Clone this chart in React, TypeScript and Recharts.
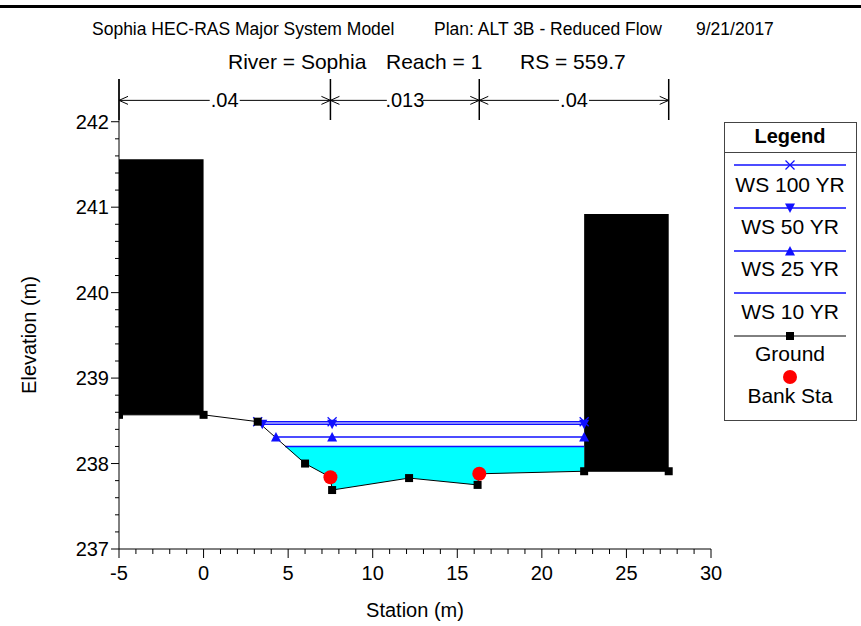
import React from 'react'
import { ComposedChart, Line, Area, XAxis, YAxis, ReferenceArea, ReferenceLine, Legend } from 'recharts'

// ground profile (station m, elevation m)
const groundStation = [-5, 0, 3.2, 6.0, 7.5, 7.6, 12.15, 16.2, 16.3, 22.5, 27.5]
const groundElev = [238.57, 238.57, 238.49, 238.0, 237.84, 237.69, 237.83, 237.75, 237.88, 237.91, 237.91]

// bank stations
const bankStation = [7.5, 16.3]
const bankElev = [237.84, 237.88]

// water surfaces
const ws100Station = [3.2, 7.6, 22.5]
const ws100Elev = [238.49, 238.49, 238.49]
const ws50Station = [3.47, 7.6, 22.5]
const ws50Elev = [238.46, 238.46, 238.46]
const ws25Station = [4.28, 7.6, 22.5]
const ws25Elev = [238.31, 238.31, 238.31]
const ws10Station = [4.82, 22.5]
const ws10Elev = [238.2, 238.2]

// obstructions
const blockStart = [-5, 22.5]
const blockEnd = [0, 27.5]
const blockBottom = [238.57, 237.91]
const blockTop = [241.56, 240.92]

// manning's n
const nStation = [-5, 7.5, 16.3, 27.5]
const nValue = ['.04', '.013', '.04']

// ticks: every 1 m on x (labels every 5), every 0.2 m on y (labels every 1)
const xTicks = Array.from({ length: 36 }, (_, i) => i - 5)
const yTicks = Array.from({ length: 26 }, (_, i) => +(237 + i * 0.2).toFixed(1))

const FONT = '"Liberation Sans", Arial, sans-serif'
const BLUE = '#1010ff'

const pts = (xs: number[], ys: number[]) => xs.map((x, i) => ({ x, y: ys[i] }))

const groundData = pts(groundStation, groundElev)
const bankData = pts(bankStation, bankElev)
const ws100Data = pts(ws100Station, ws100Elev)
const ws50Data = pts(ws50Station, ws50Elev)
const ws25Data = pts(ws25Station, ws25Elev)
const ws10Data = pts(ws10Station, ws10Elev)

// wetted area under WS 10 YR
const fillData = [
  { x: ws10Station[0], y: [ws10Elev[0], ws10Elev[0]] },
  ...groundData
    .filter((p) => p.x > ws10Station[0] && p.x <= ws10Station[1])
    .map((p) => ({ x: p.x, y: [p.y, ws10Elev[0]] })),
]

const XTick = (props: any) => {
  const { x, y, payload } = props
  const v = payload.value
  const major = v % 5 === 0
  return (
    <g>
      <line x1={x} y1={y} x2={x} y2={y + (major ? 9 : 5)} stroke="#000" />
      {major && (
        <text x={x} y={y + 31} textAnchor="middle" fontSize={20} fontFamily={FONT} fill="#000">
          {v}
        </text>
      )}
    </g>
  )
}

const YTick = (props: any) => {
  const { x, y, payload } = props
  const v = payload.value
  const major = Math.abs(v - Math.round(v)) < 1e-6
  return (
    <g>
      <line x1={x - (major ? 8 : 4)} y1={y} x2={x} y2={y} stroke="#000" />
      {major && (
        <text x={x - 10} y={y + 7} textAnchor="end" fontSize={20} fontFamily={FONT} fill="#000">
          {Math.round(v)}
        </text>
      )}
    </g>
  )
}

const Square = (props: any) => {
  const { cx, cy } = props
  if (cx == null || cy == null) return null
  return <rect x={cx - 4} y={cy - 4} width={8} height={8} fill="#000" />
}
const Cross = (props: any) => {
  const { cx, cy } = props
  if (cx == null || cy == null) return null
  return (
    <g stroke={BLUE} strokeWidth={1.3}>
      <line x1={cx - 4.5} y1={cy - 4.5} x2={cx + 4.5} y2={cy + 4.5} />
      <line x1={cx - 4.5} y1={cy + 4.5} x2={cx + 4.5} y2={cy - 4.5} />
    </g>
  )
}
const TriDown = (props: any) => {
  const { cx, cy } = props
  if (cx == null || cy == null) return null
  return <polygon points={`${cx - 5},${cy - 4.5} ${cx + 5},${cy - 4.5} ${cx},${cy + 5}`} fill={BLUE} />
}
const TriUp = (props: any) => {
  const { cx, cy } = props
  if (cx == null || cy == null) return null
  return <polygon points={`${cx - 5},${cy + 4.5} ${cx + 5},${cy + 4.5} ${cx},${cy - 5}`} fill={BLUE} />
}
const Bank = (props: any) => {
  const { cx, cy } = props
  if (cx == null || cy == null) return null
  return <circle cx={cx} cy={cy} r={7} fill="#ff0000" />
}

const arrowShape = (label: string) => (props: any) => {
  const { x1, y1, x2, y2 } = props
  const mx = (x1 + x2) / 2
  const gap = label.length * 6 + 12
  return (
    <g stroke="#000" strokeWidth={1} fill="none">
      <line x1={x1} y1={y1} x2={mx - gap / 2} y2={y2} />
      <line x1={mx + gap / 2} y1={y1} x2={x2} y2={y2} />
      <polyline points={`${x1 + 9},${y1 - 4} ${x1},${y1} ${x1 + 9},${y1 + 4}`} />
      <polyline points={`${x2 - 9},${y2 - 4} ${x2},${y2} ${x2 - 9},${y2 + 4}`} />
      <text x={mx} y={y1 + 7} textAnchor="middle" fontSize={20} fontFamily={FONT} fill="#000" stroke="none">
        {label}
      </text>
    </g>
  )
}

const LegendBox = () => {
  const lx1 = 10
  const lx2 = 122
  const cx = 66
  const txt = (y: number, s: string) => (
    <text x={cx} y={y + 7} textAnchor="middle" fontSize={21} fontFamily={FONT} fill="#000">
      {s}
    </text>
  )
  return (
    <svg width={133} height={299} style={{ display: 'block' }}>
      <rect x={0.5} y={0.5} width={132} height={298} fill="#fff" stroke="#444" />
      <line x1={0} y1={30.5} x2={133} y2={30.5} stroke="#444" />
      <text x={cx} y={21} textAnchor="middle" fontSize={20} fontWeight="bold" fontFamily={FONT}>
        Legend
      </text>
      <line x1={lx1} y1={43} x2={lx2} y2={43} stroke={BLUE} strokeWidth={1.5} />
      <Cross cx={cx} cy={43} />
      {txt(63, 'WS 100 YR')}
      <line x1={lx1} y1={86} x2={lx2} y2={86} stroke={BLUE} strokeWidth={1.5} />
      <TriDown cx={cx} cy={86} />
      {txt(105, 'WS 50 YR')}
      <line x1={lx1} y1={129} x2={lx2} y2={129} stroke={BLUE} strokeWidth={1.5} />
      <TriUp cx={cx} cy={129} />
      {txt(147, 'WS 25 YR')}
      <line x1={lx1} y1={171} x2={lx2} y2={171} stroke={BLUE} strokeWidth={1.5} />
      {txt(190, 'WS 10 YR')}
      <line x1={lx1} y1={214} x2={lx2} y2={214} stroke="#000" strokeWidth={1} />
      <Square cx={cx} cy={214} />
      {txt(232, 'Ground')}
      <Bank cx={cx} cy={255} />
      {txt(274, 'Bank Sta')}
    </svg>
  )
}

export default function App() {
  const nRow = 242.25
  return (
    <div style={{ position: 'absolute', left: 0, top: 0, background: '#fff' }}>
      <ComposedChart width={861} height={626} margin={{ top: 79, right: 150, bottom: 47, left: 59 }}>
        <rect x={0} y={5} width={861} height={3} fill="#000" />
        <text x={92} y={35} fontSize={17.5} fontFamily={FONT}>Sophia HEC-RAS Major System Model</text>
        <text x={434} y={35} fontSize={17.5} fontFamily={FONT}>Plan: ALT 3B - Reduced Flow</text>
        <text x={696} y={35} fontSize={17.5} fontFamily={FONT}>9/21/2017</text>
        <text x={228} y={69} fontSize={21} fontFamily={FONT}>River = Sophia</text>
        <text x={386} y={69} fontSize={21} fontFamily={FONT}>Reach = 1</text>
        <text x={520} y={69} fontSize={21} fontFamily={FONT}>RS = 559.7</text>
        <text x={415} y={617} textAnchor="middle" fontSize={20} fontFamily={FONT}>Station (m)</text>
        <text x={36} y={335} textAnchor="middle" fontSize={20} fontFamily={FONT} transform="rotate(-90 36 335)">
          Elevation (m)
        </text>

        <XAxis dataKey="x" type="number" domain={[-5, 30]} ticks={xTicks} interval={0} height={30} tickSize={0}
          tickMargin={0} axisLine={{ stroke: '#000' }} tickLine={false} tick={<XTick />} allowDataOverflow />
        <YAxis type="number" domain={[237, 242.5]} ticks={yTicks} interval={0} width={60} tickSize={0}
          tickMargin={0} axisLine={{ stroke: '#000' }} tickLine={false} tick={<YTick />} allowDataOverflow />

        {blockStart.map((s, i) => (
          <ReferenceArea key={'b' + i} x1={s} x2={blockEnd[i]} y1={blockBottom[i]} y2={blockTop[i]}
            fill="#000" fillOpacity={1} stroke="none" />
        ))}

        <Area data={fillData} dataKey="y" type="linear" fill="#00ffff" fillOpacity={1} stroke="none"
          isAnimationActive={false} />

        <Line data={ws10Data} dataKey="y" type="linear" stroke={BLUE} strokeWidth={1.5} dot={false}
          isAnimationActive={false} />
        <Line data={ws25Data} dataKey="y" type="linear" stroke={BLUE} strokeWidth={1.5} dot={<TriUp />}
          isAnimationActive={false} />
        <Line data={ws50Data} dataKey="y" type="linear" stroke={BLUE} strokeWidth={1.5} dot={<TriDown />}
          isAnimationActive={false} />
        <Line data={ws100Data} dataKey="y" type="linear" stroke={BLUE} strokeWidth={1.5} dot={<Cross />}
          isAnimationActive={false} />
        <Line data={groundData} dataKey="y" type="linear" stroke="#000" strokeWidth={1} dot={<Square />}
          isAnimationActive={false} />
        <Line data={bankData} dataKey="y" type="linear" stroke="none" dot={<Bank />} isAnimationActive={false} />

        {nStation.map((s, i) => (
          <ReferenceLine key={'v' + i} segment={[{ x: s, y: 242.02 }, { x: s, y: 242.5 }]} stroke="#000"
            strokeWidth={1.5} ifOverflow="visible" />
        ))}
        {nValue.map((v, i) => (
          <ReferenceLine key={'n' + i} segment={[{ x: nStation[i], y: nRow }, { x: nStation[i + 1], y: nRow }]}
            ifOverflow="visible" shape={arrowShape(v)} />
        ))}

        <Legend layout="horizontal" verticalAlign="middle" align="center" content={() => <LegendBox />}
          wrapperStyle={{ position: 'absolute', left: 724, top: 122, width: 133, height: 299 }} />
      </ComposedChart>
    </div>
  )
}
